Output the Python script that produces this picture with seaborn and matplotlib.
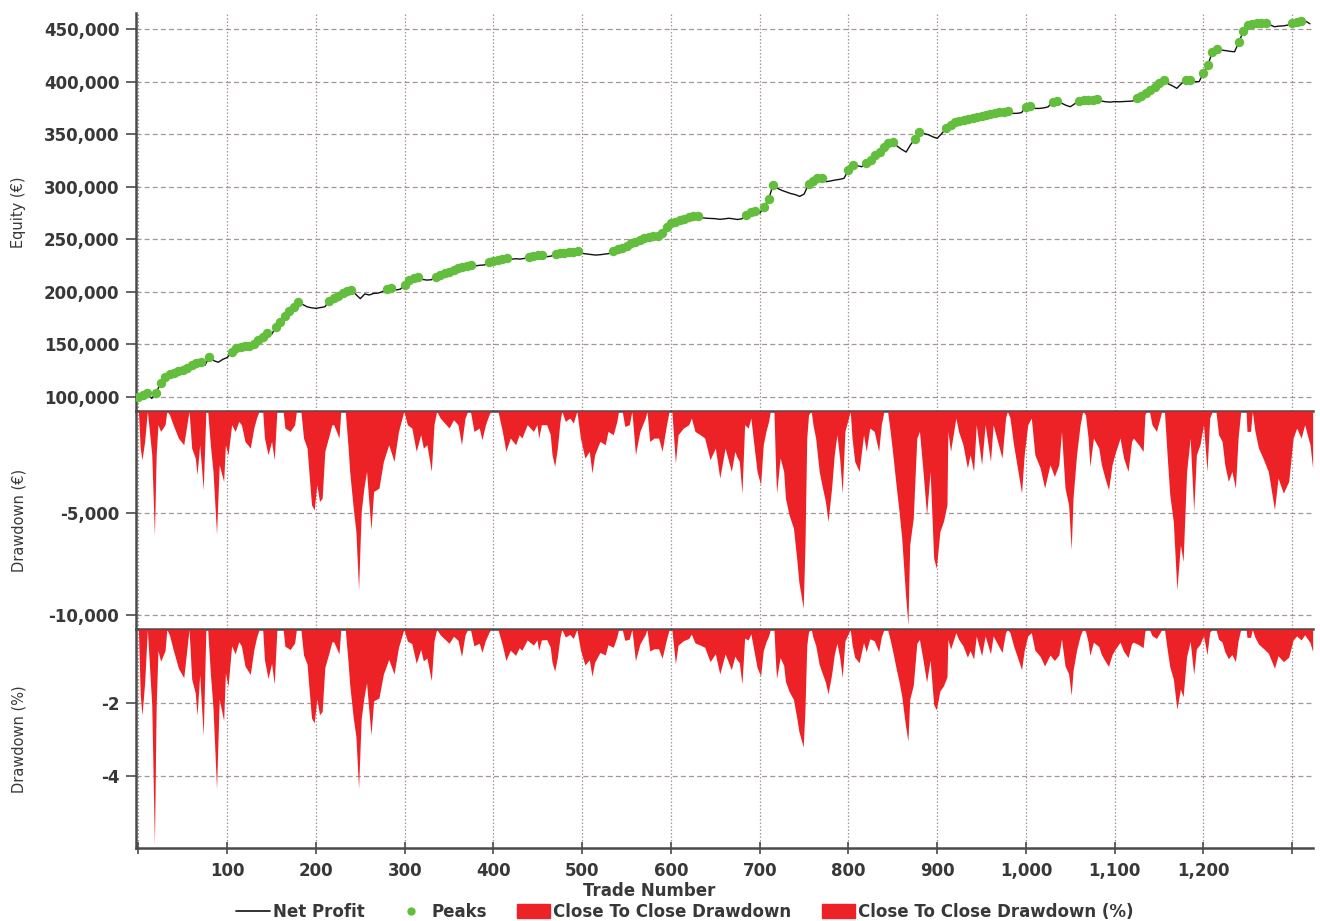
import numpy as np
import pandas as pd
import matplotlib
matplotlib.use("Agg")
import matplotlib.pyplot as plt
from matplotlib.lines import Line2D
from matplotlib.patches import Patch
from matplotlib.ticker import FuncFormatter, FixedLocator
import seaborn as sns

# Net profit equity curve, sampled every 5 trades (thousands of EUR)
trade_step = 5
equity_k = [
    100.0, 101.8, 103.4, 98.6, 104.0, 113.5, 118.8, 121.5, 123.2, 124.8,
    126.0, 127.8, 130.2, 132.0, 133.6, 130.2, 138.3, 134.5, 133.0, 135.8,
    137.5, 142.5, 147.0, 147.8, 148.2, 148.6, 150.8, 154.0, 157.5, 160.8,
    159.5, 166.8, 171.5, 177.0, 181.5, 186.0, 190.0, 188.0, 185.8, 184.8,
    184.3, 185.0, 185.8, 191.2, 194.0, 196.0, 198.5, 200.5, 201.9, 197.5,
    193.5, 198.0, 197.0, 198.5, 198.8, 200.2, 203.0, 203.6, 201.8, 202.5,
    206.5, 211.5, 213.0, 213.8, 211.8, 211.2, 211.5, 214.5, 216.2, 217.5,
    219.2, 220.8, 222.3, 223.5, 225.0, 225.8, 224.8, 225.3, 225.6, 228.2,
    229.2, 230.0, 231.0, 232.0, 231.0, 231.5, 231.2, 231.8, 233.0, 234.0,
    235.0, 235.5, 233.4, 234.0, 236.0, 236.5, 237.0, 237.5, 238.0, 238.5,
    236.6, 236.0, 235.5, 235.0, 235.3, 235.8, 236.4, 238.8, 240.5, 242.0,
    244.0, 246.0, 247.5, 249.2, 250.8, 252.2, 252.8, 253.5, 256.0, 261.5,
    265.5, 266.8, 268.3, 269.5, 271.0, 272.1, 272.4, 270.5, 270.0, 269.8,
    269.6, 269.0, 269.4, 270.0, 269.5, 268.8, 269.5, 273.5, 276.2, 277.0,
    274.7, 281.0, 288.0, 301.6, 298.5, 296.5, 295.0, 293.5, 292.5, 290.8,
    293.0, 302.5, 305.5, 308.0, 308.5, 304.8, 305.5, 306.4, 307.0, 308.0,
    316.0, 320.8, 320.0, 319.0, 322.5, 325.4, 330.0, 333.3, 338.0, 341.5,
    342.8, 338.5, 335.5, 333.0, 340.0, 345.5, 352.3, 350.5, 349.5, 347.5,
    346.0, 350.5, 355.5, 358.5, 361.5, 362.8, 363.8, 364.8, 365.5, 366.3,
    367.5, 368.2, 369.0, 369.8, 370.8, 371.3, 371.8, 369.8, 369.8, 370.5,
    376.1, 376.8, 374.5, 374.5, 375.0, 376.0, 380.8, 381.2, 379.5, 377.5,
    376.1, 379.0, 381.8, 382.2, 382.5, 382.8, 383.0, 381.5, 380.8, 380.5,
    381.0, 380.8, 381.0, 381.2, 381.5, 384.0, 386.5, 389.5, 392.0, 395.0,
    398.5, 401.5, 398.0, 396.0, 393.6, 398.0, 401.8, 402.0, 400.0, 399.9,
    408.0, 416.0, 428.0, 431.0, 430.0, 429.5, 428.8, 428.4, 438.0, 448.0,
    453.8, 455.0, 455.4, 455.7, 456.0, 454.0, 452.2, 452.8, 453.0, 453.8,
    456.2, 457.0, 457.9, 457.5, 455.0,
]

# Close-to-close drawdown: trade number, EUR and percent of the running peak
dd_trade = [
    0, 2, 4, 7, 10, 12, 15, 18, 20, 22, 25, 30, 32, 35, 39, 45, 51, 54, 57, 60,
    64, 66, 69, 73, 76, 78, 81, 84, 88, 91, 96, 98, 101, 105, 109, 113, 116, 120, 126, 130,
    133, 136, 140, 142, 146, 150, 153, 156, 163, 165, 171, 176, 178, 183, 186, 190, 192, 195, 198, 201,
    204, 207, 210, 214, 218,
    220, 226, 228, 233, 236, 238, 242, 245, 248, 251, 254, 257, 262, 265, 271, 276, 282, 288, 293, 297,
    299, 303, 308, 313, 318, 321, 325, 330, 333, 336, 340, 350, 355, 360, 364, 368, 371, 374, 378, 384,
    387, 391, 395, 397, 405, 410, 414, 419, 425, 429, 432, 438, 445,
    449, 451, 454, 460, 464, 466, 469, 472, 475, 477, 481, 486, 490, 494, 498, 503, 508, 511, 514, 520,
    526, 529, 535, 539, 541, 545, 548, 553, 556, 560, 565, 571, 573, 576, 581, 586, 590, 595, 598, 601,
    605, 608, 614, 620, 623, 627, 633, 638, 644, 650, 655, 661, 668, 672,
    674, 677, 680, 683, 687, 690, 693, 697, 701, 704, 707, 710, 712, 716, 718, 719, 723, 727, 729, 733,
    738, 742, 744, 749, 751, 753, 755, 758, 760, 763, 767, 770, 774, 777, 781, 784, 787, 790, 793, 796,
    799, 802, 804, 807, 812, 817, 820, 824, 829, 834, 837, 840, 844, 847, 850, 854, 857, 860, 864, 867,
    869, 873, 877, 880, 884, 888, 892, 896,
    899, 903, 907, 911, 912, 915, 918, 921, 924, 929, 934, 937, 941, 944, 950, 954, 960, 963, 967, 973,
    977, 979, 982, 986, 991, 995, 998, 1002, 1006, 1010, 1016, 1021, 1027, 1032, 1037, 1040, 1044, 1048, 1051, 1053,
    1057, 1061, 1064, 1067, 1070, 1072, 1076, 1082, 1085, 1089, 1093, 1097, 1100, 1106, 1110, 1115, 1119,
    1121, 1127, 1132, 1134, 1136, 1139, 1142, 1147, 1151, 1153, 1156, 1159, 1162, 1166, 1170, 1174, 1177, 1181, 1185, 1189,
    1192, 1196, 1200, 1204, 1207, 1210, 1214, 1217, 1221, 1224, 1228, 1232, 1236, 1239, 1242, 1248, 1249, 1253, 1255, 1258,
    1262, 1267, 1273, 1280, 1284, 1290, 1296, 1301, 1305, 1310, 1314, 1320, 1323,
]
dd_eur = [
    0, -1814, -2386, -1487, 0, -833, -2140, -6095, -2140, -670, -997, -670, 0, -180, -670, -1324, -1650, -833, 0, -1814,
    -2304, -3121, -1650, -3856, 0, 0, -1650, -2958, -6030, -2631, -3448, -1650, -2140, -670, -997, -507, -670, -1487, -1814, -833,
    -343, 0, 0, -1324, -2140, -1487, -2386, 0, 0, -833, -997, -670, 0, 0, -1324, -1814, -2958, -4592, -4836, -3611,
    -4428, -4265, -1977, -1324, -670,
    -670, -1324, 0, 0, -1650, -2958, -4755, -5899, -8758, -4918, -3775, -2958, -5817, -3938, -3775, -2467, -1650, -2467, -997, -343,
    0, -670, -833, -1977, -1160, -1814, -1650, -2958, -670, 0, -343, -833, -425, -670, -1650, -343, 0, 0, -997, -833,
    -1405, -670, -180, 0, 0, -997, -1977, -1324, -1650, -1160, -1324, -670, -997,
    -670, -1324, -670, -670, -1160, -2140, -2712, -1814, -507, 0, -507, -343, -588, 0, -1324, -2304, -1977, -3039, -2140, -1487,
    -1650, -997, -1160, -507, 0, 0, -752, -670, 0, -2140, -997, -343, 0, -1487, -1324, -1324, -1977, -670, 0, 0,
    -2549, -1160, -833, -670, -343, -997, -1160, -1324, -2386, -1814, -3284, -1814, -2958, -1977,
    -2222, -2467, -4020, -670, -833, -343, -1487, -2958, -3611, -1650, -997, -507, 0, 0, -2958, -4020, -2304, -2958, -4265, -5082,
    -5735, -7369, -8350, -9657, -6552, -1324, -180, 0, -670, -1324, -2958, -3611, -4428, -5408, -3775, -2140, -1160, -2304, -4020, -997,
    -507, 0, -1324, -2467, -2958, -1160, -1977, -833, -997, -1977, -670, 0, 0, -997, -2140, -3775, -4918, -6226, -8840, -10474,
    -6552, -5245, -1324, -997, -2958, -5082, -2958, -7206,
    -7696, -5899, -5408, -4592, -997, -1977, -1160, -343, -997, -1650, -2794, -2140, -2958, -670, -2631, -670, -2467, -670, -1324, -2304,
    -343, 0, -343, -1650, -2958, -4020, -2140, -670, -343, -2140, -2794, -3775, -2631, -3203, -2631, -997, -3775, -4592, -6797, -4265,
    -2140, -670, 0, -180, -1324, -2712, -1324, -1814, -2631, -3284, -3856, -2631, -2140, -1324, -2304, -2958, -1487,
    -1324, -1650, -1977, -180, 0, 0, -670, -997, -343, 0, 0, -2140, -4101, -5408, -8758, -6552, -7369, -2958, -1324, -4918,
    -2140, -1650, -670, -2958, -343, 0, 0, -1160, -1487, -2631, -3448, -2958, -3775, -1324, 0, 0, -997, -997, 0, -997,
    -1814, -2304, -2958, -4836, -3284, -4020, -3448, -1324, -833, -1324, -670, -1650, -2794,
]
dd_pct = [
    0, -1.78, -2.34, -1.46, 0, -0.81, -2.07, -5.89, -2.07, -0.58, -0.87, -0.58, 0, -0.16, -0.54, -1.06, -1.32, -0.67, 0, -1.36,
    -1.73, -2.35, -1.24, -2.90, 0, 0, -1.19, -2.14, -4.35, -1.90, -2.49, -1.19, -1.55, -0.45, -0.67, -0.34, -0.45, -1.00, -1.23, -0.56,
    -0.23, 0, 0, -0.83, -1.34, -0.93, -1.49, 0, 0, -0.46, -0.55, -0.37, 0, 0, -0.70, -0.95, -1.56, -2.42, -2.55, -1.90,
    -2.33, -2.24, -1.04, -0.70, -0.34,
    -0.34, -0.67, 0, 0, -0.84, -1.50, -2.41, -2.92, -4.34, -2.43, -1.87, -1.46, -2.88, -1.95, -1.87, -1.22, -0.82, -1.22, -0.49, -0.17,
    0, -0.32, -0.39, -0.93, -0.55, -0.86, -0.78, -1.40, -0.32, 0, -0.15, -0.38, -0.19, -0.30, -0.74, -0.15, 0, 0, -0.45, -0.38,
    -0.63, -0.30, -0.08, 0, 0, -0.43, -0.85, -0.57, -0.71, -0.50, -0.57, -0.29, -0.43,
    -0.29, -0.57, -0.29, -0.28, -0.49, -0.90, -1.14, -0.77, -0.21, 0, -0.21, -0.14, -0.25, 0, -0.56, -0.97, -0.83, -1.28, -0.90, -0.63,
    -0.70, -0.42, -0.49, -0.21, 0, 0, -0.30, -0.27, 0, -0.86, -0.40, -0.14, 0, -0.59, -0.53, -0.53, -0.79, -0.27, 0, 0,
    -0.94, -0.43, -0.31, -0.25, -0.13, -0.37, -0.43, -0.49, -0.88, -0.67, -1.22, -0.67, -1.10, -0.73,
    -0.82, -0.91, -1.49, -0.24, -0.29, -0.12, -0.52, -1.04, -1.27, -0.58, -0.35, -0.18, 0, 0, -0.98, -1.34, -0.77, -0.98, -1.42, -1.69,
    -1.91, -2.45, -2.77, -3.21, -2.18, -0.44, -0.06, 0, -0.22, -0.43, -0.96, -1.17, -1.44, -1.76, -1.23, -0.69, -0.38, -0.75, -1.31, -0.32,
    -0.16, 0, -0.41, -0.76, -0.91, -0.36, -0.61, -0.26, -0.31, -0.61, -0.21, 0, 0, -0.29, -0.62, -1.10, -1.43, -1.82, -2.58, -3.05,
    -1.91, -1.53, -0.38, -0.28, -0.84, -1.44, -0.84, -2.05,
    -2.19, -1.68, -1.54, -1.30, -0.27, -0.54, -0.32, -0.09, -0.27, -0.45, -0.76, -0.58, -0.81, -0.18, -0.72, -0.18, -0.67, -0.18, -0.36, -0.63,
    -0.09, 0, -0.09, -0.45, -0.81, -1.10, -0.58, -0.18, -0.09, -0.57, -0.74, -1.00, -0.70, -0.85, -0.70, -0.26, -1.00, -1.21, -1.80, -1.13,
    -0.57, -0.18, 0, -0.05, -0.35, -0.71, -0.35, -0.47, -0.69, -0.86, -1.01, -0.69, -0.56, -0.35, -0.60, -0.77, -0.39,
    -0.35, -0.42, -0.50, -0.05, 0, 0, -0.17, -0.25, -0.09, 0, 0, -0.53, -1.02, -1.35, -2.18, -1.63, -1.84, -0.74, -0.33, -1.23,
    -0.53, -0.41, -0.17, -0.69, -0.08, 0, 0, -0.27, -0.35, -0.61, -0.80, -0.69, -0.88, -0.31, 0, 0, -0.22, -0.22, 0, -0.22,
    -0.40, -0.51, -0.65, -1.06, -0.72, -0.88, -0.76, -0.29, -0.18, -0.29, -0.15, -0.36, -0.61,
]

equity_ticks = [100000, 150000, 200000, 250000, 300000, 350000, 400000, 450000]
dd_eur_ticks = [-5000, -10000]
dd_pct_ticks = [-2, -4]
trade_ticks = [0, 100, 200, 300, 400, 500, 600, 700, 800, 900, 1000, 1100, 1200, 1300]
trade_tick_labels = ["", "100", "200", "300", "400", "500", "600", "700", "800",
                     "900", "1,000", "1,100", "1,200", ""]

assert len(dd_trade) == len(dd_eur) == len(dd_pct)

equity = pd.DataFrame({
    "trade": np.arange(len(equity_k)) * trade_step,
    "equity": np.array(equity_k) * 1000.0,
})
equity["is_peak"] = equity["equity"] >= equity["equity"].cummax()
peaks = equity[equity["is_peak"]]

drawdown = pd.DataFrame({"trade": dd_trade, "eur": dd_eur, "pct": dd_pct})

# ---- styling -------------------------------------------------------------
sns.set_theme(style="white")
plt.rcParams["font.family"] = ["DejaVu Sans"]

LINE_C = "#111111"
PEAK_C = "#63BE3D"
DD_C = "#EC2227"
GRID_C = "#A59696"
SPINE_C = "#4A4A4A"
TEXT_C = "#383838"
TICK_SIZE = 12

fig = plt.figure(figsize=(13.2, 9.21), dpi=100)
left, width = 0.103, 0.8917
ax_eq = fig.add_axes([left, 0.5537, width, 0.4321])
ax_dd = fig.add_axes([left, 0.3167, width, 0.2370], sharex=ax_eq)
ax_pc = fig.add_axes([left, 0.0789, width, 0.2378], sharex=ax_eq)

# equity with peak markers
sns.lineplot(data=equity, x="trade", y="equity", color=LINE_C, lw=1.0, ax=ax_eq,
             legend=False, zorder=3)
sns.scatterplot(data=peaks, x="trade", y="equity", color=PEAK_C, s=46,
                linewidth=0, ax=ax_eq, legend=False, zorder=4)

# drawdown panels
ax_dd.fill_between(drawdown["trade"], drawdown["eur"], 0, color=DD_C, lw=0, zorder=3)
ax_pc.fill_between(drawdown["trade"], drawdown["pct"], 0, color=DD_C, lw=0, zorder=3)

ax_eq.set_xlim(-2.8, 1323.4)
ax_eq.set_ylim(86600, 465200)
ax_dd.set_ylim(-10690, 0)
ax_pc.set_ylim(-5.97, 0)

ax_eq.yaxis.set_major_locator(FixedLocator(equity_ticks))
ax_dd.yaxis.set_major_locator(FixedLocator(dd_eur_ticks))
ax_pc.yaxis.set_major_locator(FixedLocator(dd_pct_ticks))
ax_eq.yaxis.set_major_formatter(FuncFormatter(lambda v, p: f"{v:,.0f}"))
ax_dd.yaxis.set_major_formatter(FuncFormatter(lambda v, p: f"{v:,.0f}"))
ax_pc.yaxis.set_major_formatter(FuncFormatter(lambda v, p: f"{v:.0f}"))
ax_pc.set_xticks(trade_ticks)
ax_pc.set_xticklabels(trade_tick_labels)

for ax in (ax_eq, ax_dd, ax_pc):
    ax.set_facecolor("white")
    ax.set_xlabel("")
    ax.xaxis.grid(True, color=GRID_C, lw=0.9, linestyle=(0, (1.2, 1.6)), zorder=1)
    ax.yaxis.grid(True, color=GRID_C, lw=0.9, linestyle=(0, (4, 2.5)), zorder=1)
    ax.set_axisbelow(True)
    for side in ("top", "right", "bottom", "left"):
        ax.spines[side].set_visible(False)
    ax.spines["left"].set_visible(True)
    ax.spines["left"].set_color(SPINE_C)
    ax.spines["left"].set_linewidth(1.8)
    ax.tick_params(axis="y", which="major", left=True, direction="out", length=7,
                   width=1.2, color=SPINE_C, pad=5, labelsize=TICK_SIZE, labelcolor=TEXT_C)
    for lbl in ax.get_yticklabels():
        lbl.set_fontweight("bold")

for ax in (ax_dd, ax_pc):
    ax.spines["top"].set_visible(True)
    ax.spines["top"].set_color(SPINE_C)
    ax.spines["top"].set_linewidth(1.8)

ax_pc.spines["bottom"].set_visible(True)
ax_pc.spines["bottom"].set_color(SPINE_C)
ax_pc.spines["bottom"].set_linewidth(1.8)

for ax in (ax_eq, ax_dd):
    ax.tick_params(axis="x", bottom=False, labelbottom=False)
ax_pc.tick_params(axis="x", bottom=True, direction="inout", length=9, width=1.2,
                  color=SPINE_C, pad=5, labelsize=TICK_SIZE, labelcolor=TEXT_C)
for lbl in ax_pc.get_xticklabels():
    lbl.set_fontweight("bold")

label_font = dict(fontsize=10.5, color=TEXT_C, family=["Liberation Sans Narrow", "DejaVu Sans"])
ax_eq.set_ylabel("Equity (€)", **label_font)
ax_dd.set_ylabel("Drawdown (€)", **label_font)
ax_pc.set_ylabel("Drawdown (%)", **label_font)
for ax in (ax_eq, ax_dd, ax_pc):
    ax.yaxis.set_label_coords(-0.093, 0.5)

fig.text(649 / 1320, 1 - 891 / 921, "Trade Number", ha="center", va="center",
         fontsize=TICK_SIZE, fontweight="bold", color=TEXT_C)

handles = [
    Line2D([], [], color=LINE_C, lw=1.2),
    Line2D([], [], color=PEAK_C, marker="o", markersize=5, lw=0),
    Patch(facecolor=DD_C, edgecolor=DD_C),
    Patch(facecolor=DD_C, edgecolor=DD_C),
]
labels = ["Net Profit", "Peaks", "Close To Close Drawdown", "Close To Close Drawdown (%)"]
fig.legend(handles, labels, loc="center", bbox_to_anchor=(685 / 1320, 1 - 912 / 921),
           ncol=4, frameon=False, handlelength=2.0, handleheight=0.9,
           handletextpad=0.2, columnspacing=1.8,
           prop=dict(size=TICK_SIZE, weight="bold"), labelcolor=TEXT_C)

fig.savefig("out.png", dpi=100, facecolor="white")
